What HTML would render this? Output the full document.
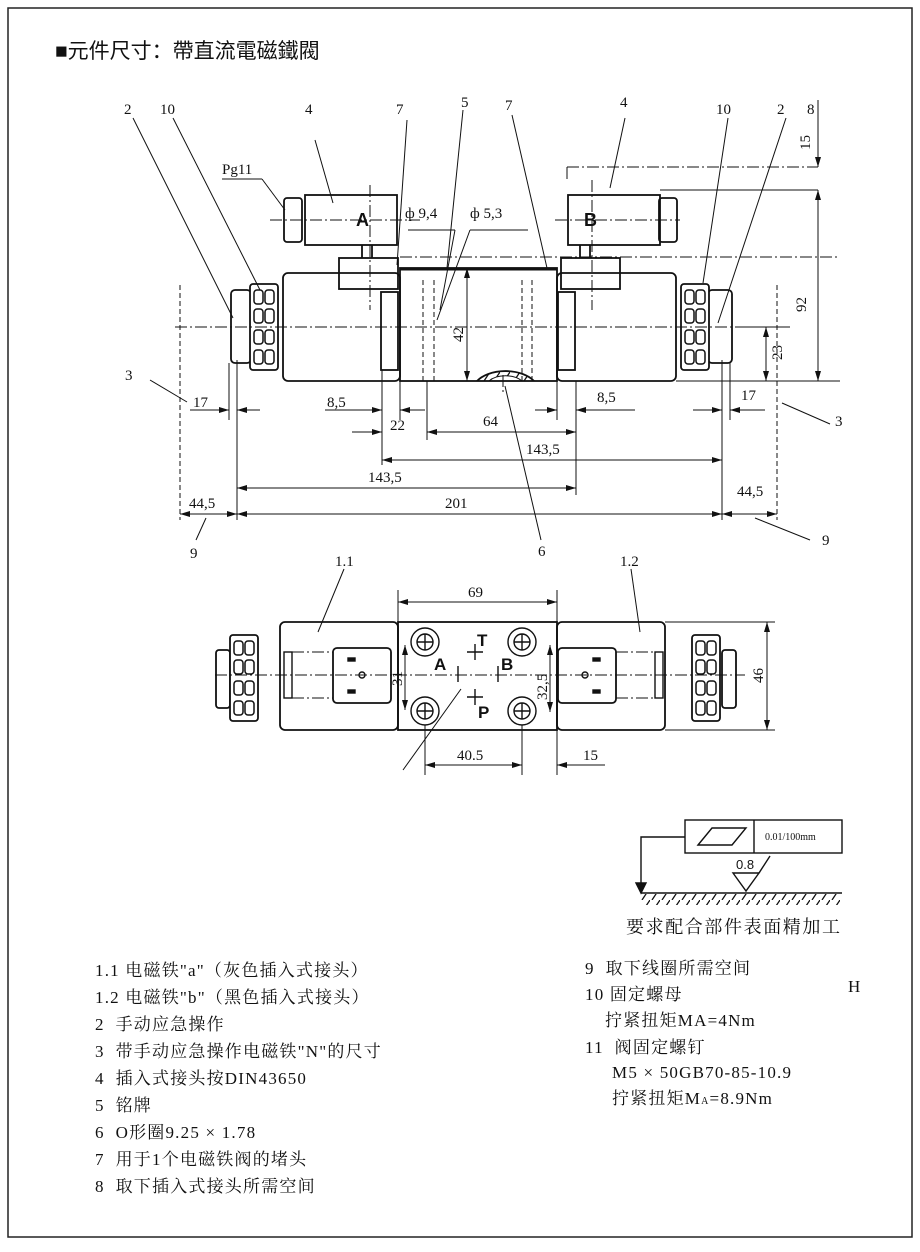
<!DOCTYPE html>
<html><head><meta charset="utf-8"><style>
body{margin:0;background:#fff;width:920px;height:1247px;overflow:hidden}
svg text{font-family:"Liberation Serif","Noto Serif CJK SC",serif;fill:#111}
.s{font-family:"Liberation Sans","Noto Sans CJK SC",sans-serif}
</style></head><body>
<svg width="920" height="1247" viewBox="0 0 920 1247" xmlns="http://www.w3.org/2000/svg">
<defs>
<marker id="a" viewBox="0 0 10 6" refX="10" refY="3" markerWidth="10" markerHeight="6" orient="auto-start-reverse"><path d="M0,0L10,3L0,6z" fill="#111"/></marker>
<pattern id="h" width="10" height="12" patternUnits="userSpaceOnUse"><path d="M10,0L2,12" stroke="#111" stroke-width="1.3"/></pattern>
<g id="knurl"><rect x="0" y="0" width="28" height="86" rx="3" fill="#fff" stroke="#111" stroke-width="1.8"/>
<g fill="none" stroke="#111" stroke-width="1.5"><rect x="4" y="6" width="9" height="14" rx="3"/><rect x="15" y="6" width="9" height="14" rx="3"/><rect x="4" y="25" width="9" height="14" rx="3"/><rect x="15" y="25" width="9" height="14" rx="3"/><rect x="4" y="46" width="9" height="14" rx="3"/><rect x="15" y="46" width="9" height="14" rx="3"/><rect x="4" y="66" width="9" height="14" rx="3"/><rect x="15" y="66" width="9" height="14" rx="3"/></g></g>
</defs>
<rect x="8" y="8" width="904" height="1229" fill="none" stroke="#222" stroke-width="1.5"/>
<text x="55" y="58" class="s" font-size="21">■元件尺寸：帶直流電磁鐵閥</text>

<g stroke="#111" fill="none" stroke-width="1.8">
<rect x="283" y="273" width="117" height="108" rx="5"/>
<rect x="400" y="268" width="157" height="113"/>
<rect x="557" y="273" width="119" height="108" rx="5"/>
<line x1="400" y1="269" x2="557" y2="269" stroke-width="3"/>
<rect x="305" y="195" width="92" height="50"/>
<rect x="339" y="258" width="59" height="31"/>
<rect x="561" y="258" width="59" height="31"/>
<rect x="568" y="195" width="92" height="50"/>
<rect x="284" y="198" width="18" height="44" rx="3"/>
<rect x="659" y="198" width="18" height="44" rx="3"/>
<line x1="362" y1="245" x2="362" y2="258"/><line x1="372" y1="245" x2="372" y2="258"/>
<line x1="580" y1="245" x2="580" y2="258"/><line x1="590" y1="245" x2="590" y2="258"/>
<rect x="381" y="292" width="17" height="78"/><rect x="558" y="292" width="17" height="78"/>
<rect x="231" y="290" width="20" height="73" rx="4"/>
<rect x="708" y="290" width="24" height="73" rx="4"/>
<path d="M477,381 A33,20 0 0 1 534,381" />
</g>
<path d="M477,381 A33,20 0 0 1 534,381 L522,381 A20,12 0 0 0 489,381z" fill="url(#h)" stroke="#111"/>
<use href="#knurl" x="250" y="284"/>
<use href="#knurl" x="681" y="284"/>
<g stroke="#111" stroke-width="1" stroke-dasharray="12,3,2,3" fill="none">
<line x1="175" y1="327" x2="745" y2="327"/>
<line x1="400" y1="257" x2="840" y2="257"/>
<line x1="567" y1="167" x2="818" y2="167"/>
<line x1="567" y1="167" x2="567" y2="180"/>
<line x1="270" y1="220" x2="420" y2="220"/><line x1="555" y1="220" x2="680" y2="220"/>
<line x1="370" y1="185" x2="370" y2="310"/><line x1="592" y1="180" x2="592" y2="310"/>
<line x1="503" y1="375" x2="503" y2="395"/>
</g>
<g stroke="#111" stroke-width="1" stroke-dasharray="5,3" fill="none">
<line x1="423" y1="280" x2="423" y2="381"/><line x1="434" y1="280" x2="434" y2="381"/>
<line x1="522" y1="280" x2="522" y2="381"/><line x1="532" y1="280" x2="532" y2="381"/>
<line x1="180" y1="285" x2="180" y2="520"/><line x1="777" y1="285" x2="777" y2="520"/>
</g>
<text x="356" y="226" class="s" font-size="18" font-weight="bold">A</text>
<text x="584" y="226" class="s" font-size="18" font-weight="bold">B</text>
<g stroke="#111" stroke-width="1" fill="none">
<line x1="676" y1="381" x2="840" y2="381"/>
<line x1="660" y1="190" x2="818" y2="190"/>
<line x1="237" y1="360" x2="237" y2="520"/><line x1="722" y1="360" x2="722" y2="520"/>
<line x1="382" y1="370" x2="382" y2="465"/><line x1="400" y1="381" x2="400" y2="420"/>
<line x1="427" y1="381" x2="427" y2="440"/><line x1="576" y1="381" x2="576" y2="495"/>
<line x1="557" y1="381" x2="557" y2="420"/>
<line x1="229" y1="363" x2="229" y2="420"/><line x1="730" y1="363" x2="730" y2="420"/>
</g>
<g stroke="#111" stroke-width="1" fill="none">
<line x1="190" y1="410" x2="229" y2="410" marker-end="url(#a)"/><line x1="260" y1="410" x2="237" y2="410" marker-end="url(#a)"/>
<line x1="325" y1="410" x2="382" y2="410" marker-end="url(#a)"/><line x1="425" y1="410" x2="400" y2="410" marker-end="url(#a)"/>
<line x1="535" y1="410" x2="557" y2="410" marker-end="url(#a)"/><line x1="635" y1="410" x2="576" y2="410" marker-end="url(#a)"/>
<line x1="693" y1="410" x2="722" y2="410" marker-end="url(#a)"/><line x1="765" y1="410" x2="730" y2="410" marker-end="url(#a)"/>
<line x1="352" y1="432" x2="382" y2="432" marker-end="url(#a)"/>
<line x1="427" y1="432" x2="576" y2="432" marker-start="url(#a)" marker-end="url(#a)"/>
<line x1="382" y1="460" x2="722" y2="460" marker-start="url(#a)" marker-end="url(#a)"/>
<line x1="237" y1="488" x2="576" y2="488" marker-start="url(#a)" marker-end="url(#a)"/>
<line x1="180" y1="514" x2="237" y2="514" marker-start="url(#a)" marker-end="url(#a)"/>
<line x1="237" y1="514" x2="722" y2="514" marker-start="url(#a)" marker-end="url(#a)"/>
<line x1="722" y1="514" x2="777" y2="514" marker-start="url(#a)" marker-end="url(#a)"/>
<line x1="467" y1="268" x2="467" y2="381" marker-start="url(#a)" marker-end="url(#a)"/>
<line x1="818" y1="190" x2="818" y2="381" marker-start="url(#a)" marker-end="url(#a)"/>
<line x1="818" y1="100" x2="818" y2="167" marker-end="url(#a)"/>
<line x1="818" y1="215" x2="818" y2="190"/>
<line x1="766" y1="327" x2="766" y2="381" marker-start="url(#a)" marker-end="url(#a)"/>
<line x1="745" y1="327" x2="790" y2="327"/>
<line x1="133" y1="118" x2="233" y2="318"/><line x1="173" y1="118" x2="260" y2="290"/>
<line x1="315" y1="140" x2="333" y2="203"/><line x1="407" y1="120" x2="397" y2="265"/>
<line x1="463" y1="110" x2="447" y2="268"/><line x1="512" y1="115" x2="547" y2="268"/>
<line x1="625" y1="118" x2="610" y2="188"/><line x1="728" y1="118" x2="703" y2="283"/>
<line x1="786" y1="118" x2="718" y2="323"/>
<line x1="222" y1="179" x2="262" y2="179"/><line x1="262" y1="179" x2="285" y2="210"/>
<line x1="408" y1="230" x2="455" y2="230"/><line x1="455" y1="230" x2="440" y2="310"/>
<line x1="470" y1="230" x2="528" y2="230"/><line x1="470" y1="230" x2="437" y2="320"/>
<line x1="150" y1="380" x2="187" y2="402"/><line x1="782" y1="403" x2="830" y2="424"/>
<line x1="206" y1="518" x2="196" y2="540"/><line x1="755" y1="518" x2="810" y2="540"/>
<line x1="505" y1="386" x2="541" y2="540"/>
</g>
<g font-size="15">
<text x="124" y="114">2</text><text x="160" y="114">10</text><text x="305" y="114">4</text><text x="396" y="114">7</text>
<text x="461" y="107">5</text><text x="505" y="110">7</text><text x="620" y="107">4</text><text x="716" y="114">10</text>
<text x="777" y="114">2</text><text x="807" y="114">8</text>
<text x="222" y="174">Pg11</text><text x="405" y="218">ф 9,4</text><text x="470" y="218">ф 5,3</text>
<text x="125" y="380">3</text><text x="835" y="426">3</text>
<text x="193" y="407">17</text><text x="327" y="407">8,5</text><text x="597" y="402">8,5</text><text x="741" y="400">17</text>
<text x="390" y="430">22</text><text x="483" y="426">64</text><text x="526" y="454">143,5</text><text x="368" y="482">143,5</text>
<text x="445" y="508">201</text><text x="189" y="508">44,5</text><text x="737" y="496">44,5</text>
<text x="190" y="558">9</text><text x="822" y="545">9</text><text x="538" y="556">6</text>
<text transform="translate(463,342) rotate(-90)">42</text>
<text transform="translate(806,312) rotate(-90)">92</text>
<text transform="translate(782,360) rotate(-90)">23</text>
<text transform="translate(810,150) rotate(-90)">15</text>
</g>

<g stroke="#111" stroke-width="1.8" fill="none">
<rect x="280" y="622" width="118" height="108" rx="5"/>
<rect x="398" y="622" width="159" height="108"/>
<rect x="557" y="622" width="108" height="108" rx="5"/>
<rect x="333" y="648" width="58" height="55" rx="4"/>
<rect x="558" y="648" width="58" height="55" rx="4"/>
<rect x="216" y="650" width="14" height="58" rx="3"/>
<rect x="722" y="650" width="14" height="58" rx="3"/>
</g>
<use href="#knurl" x="230" y="635"/>
<use href="#knurl" x="692" y="635"/>
<g stroke="#111" stroke-width="1.4" fill="none">
<circle cx="425" cy="642" r="14"/><circle cx="425" cy="642" r="8"/>
<circle cx="425" cy="711" r="14"/><circle cx="425" cy="711" r="8"/>
<circle cx="522" cy="642" r="14"/><circle cx="522" cy="642" r="8"/>
<circle cx="522" cy="711" r="14"/><circle cx="522" cy="711" r="8"/>
<path d="M417,642h16M425,634v16M417,711h16M425,703v16M514,642h16M522,634v16M514,711h16M522,703v16"/>
<path d="M467,652h16M475,644v16M467,697h16M475,689v16M458,666v16M498,666v16"/>
<rect x="348" y="658" width="7" height="3" fill="#111"/><rect x="348" y="690" width="7" height="3" fill="#111"/>
<rect x="593" y="658" width="7" height="3" fill="#111"/><rect x="593" y="690" width="7" height="3" fill="#111"/>
<circle cx="362" cy="675" r="3"/><circle cx="585" cy="675" r="3"/>
<rect x="284" y="652" width="8" height="46"/><rect x="655" y="652" width="8" height="46"/>
</g>
<g stroke="#111" stroke-width="1" stroke-dasharray="12,3,2,3" fill="none">
<line x1="215" y1="675" x2="745" y2="675"/>
<line x1="292" y1="652" x2="333" y2="652"/><line x1="292" y1="698" x2="333" y2="698"/>
<line x1="616" y1="652" x2="655" y2="652"/><line x1="616" y1="698" x2="655" y2="698"/>
</g>
<g stroke="#111" stroke-width="1" fill="none">
<line x1="398" y1="590" x2="398" y2="622"/><line x1="557" y1="590" x2="557" y2="775"/>
<line x1="398" y1="602" x2="557" y2="602" marker-start="url(#a)" marker-end="url(#a)"/>
<line x1="405" y1="645" x2="405" y2="710" marker-start="url(#a)" marker-end="url(#a)"/>
<line x1="550" y1="645" x2="550" y2="712" marker-start="url(#a)" marker-end="url(#a)"/>
<line x1="665" y1="622" x2="775" y2="622"/><line x1="665" y1="730" x2="775" y2="730"/>
<line x1="767" y1="622" x2="767" y2="730" marker-start="url(#a)" marker-end="url(#a)"/>
<line x1="425" y1="725" x2="425" y2="775"/><line x1="522" y1="725" x2="522" y2="775"/>
<line x1="425" y1="765" x2="522" y2="765" marker-start="url(#a)" marker-end="url(#a)"/>
<line x1="605" y1="765" x2="557" y2="765" marker-end="url(#a)"/>
<line x1="344" y1="569" x2="318" y2="632"/><line x1="631" y1="569" x2="640" y2="632"/>
<line x1="403" y1="770" x2="461" y2="689"/>
</g>
<g font-size="15">
<text x="335" y="566">1.1</text><text x="620" y="566">1.2</text><text x="468" y="597">69</text>
<text x="457" y="760">40.5</text><text x="583" y="760">15</text>
<text transform="translate(402,686) rotate(-90)">31</text>
<text transform="translate(547,700) rotate(-90)">32,5</text>
<text transform="translate(763,683) rotate(-90)">46</text>
</g>
<g font-size="17" font-weight="bold">
<text x="477" y="646" class="s">T</text><text x="434" y="670" class="s">A</text>
<text x="501" y="670" class="s">B</text><text x="478" y="718" class="s">P</text>
</g>

<g stroke="#111" stroke-width="1.4" fill="none">
<rect x="685" y="820" width="157" height="33"/><line x1="754" y1="820" x2="754" y2="853"/>
<path d="M698,845L712,828H746L732,845z"/>
<path d="M685,837H641V886"/>
<path d="M641,893L636,883H646z" fill="#111"/>
<line x1="641" y1="893" x2="842" y2="893"/>
<path d="M733,873H759L746,891z"/>
<line x1="759" y1="873" x2="770" y2="856"/>
</g>
<rect x="641" y="894" width="200" height="11" fill="url(#h)"/>
<text x="765" y="840" font-size="10">0.01/100mm</text>
<text x="736" y="869" class="s" font-size="13">0.8</text>
<text x="626" y="933" font-size="18" letter-spacing="1.6">要求配合部件表面精加工</text>

<g font-size="17" letter-spacing="1.2">
<text x="95" y="976">1.1 电磁铁"a"（灰色插入式接头）</text>
<text x="95" y="1003">1.2 电磁铁"b"（黑色插入式接头）</text>
<text x="95" y="1030">2&#160;&#160;手动应急操作</text>
<text x="95" y="1057">3&#160;&#160;带手动应急操作电磁铁"N"的尺寸</text>
<text x="95" y="1084">4&#160;&#160;插入式接头按DIN43650</text>
<text x="95" y="1111">5&#160;&#160;铭牌</text>
<text x="95" y="1138">6&#160;&#160;O形圈9.25 × 1.78</text>
<text x="95" y="1165">7&#160;&#160;用于1个电磁铁阀的堵头</text>
<text x="95" y="1192">8&#160;&#160;取下插入式接头所需空间</text>
<text x="585" y="974">9&#160;&#160;取下线圈所需空间</text>
<text x="585" y="1000">10 固定螺母</text>
<text x="605" y="1026">拧紧扭矩MA=4Nm</text>
<text x="585" y="1053">11&#160;&#160;阀固定螺钉</text>
<text x="612" y="1078">M5 × 50GB70-85-10.9</text>
<text x="612" y="1104">拧紧扭矩M<tspan font-size="10">A</tspan>=8.9Nm</text>
<text x="848" y="992">H</text>
</g>
</svg>
</body></html>
